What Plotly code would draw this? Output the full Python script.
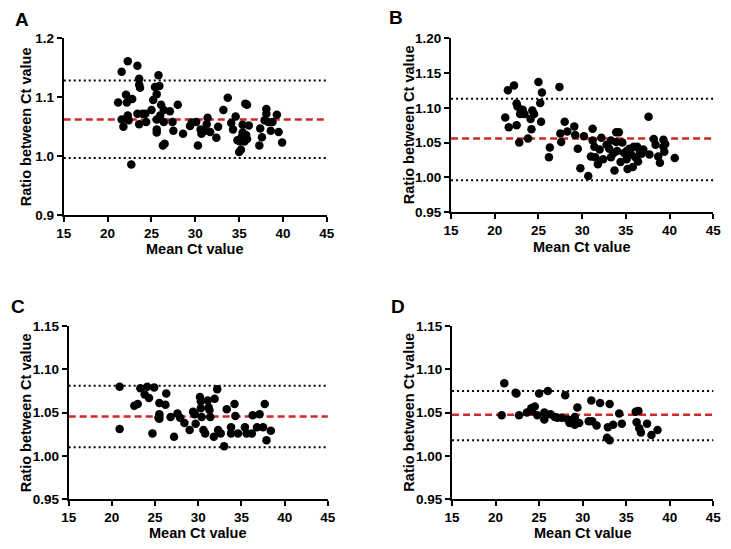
import plotly.graph_objects as go

# ---------------- data ----------------
A_x = [21.2, 21.6, 21.6, 21.8, 22.3, 22.1, 22.2, 22.3, 22.4, 22.8, 22.7, 23.4, 23.6, 23.6, 23.7,
       23.4, 23.6, 24.0, 24.3, 24.4, 25.0, 25.2, 25.4, 25.6, 25.8, 25.9, 25.6, 25.6, 25.6, 26.1,
       26.0, 26.4, 26.4, 26.3, 26.5, 27.1, 27.4, 27.5, 28.0, 28.6, 29.6, 29.4, 30.1, 30.3, 30.6,
       30.7, 31.1, 31.4, 31.3, 31.7, 32.4, 32.6, 33.2, 33.7, 34.1, 34.3, 34.6, 34.8, 35.0, 35.2,
       35.1, 35.4, 35.4, 35.7, 35.9, 35.6, 35.8, 35.9, 36.1, 35.3, 37.3, 37.4, 37.6, 38.1, 38.1,
       38.3, 38.6, 38.8, 39.3, 39.5, 39.9, 37.9]
A_y = [1.091, 1.143, 1.062, 1.050, 1.161, 1.104, 1.091, 1.069, 1.061, 1.097, 0.986, 1.153, 1.131, 1.121, 1.116,
       1.072, 1.054, 1.072, 1.072, 1.058, 1.078, 1.095, 1.117, 1.105, 1.137, 1.119, 1.062, 1.045, 1.040, 1.087,
       1.069, 1.078, 1.058, 1.018, 1.021, 1.076, 1.058, 1.043, 1.087, 1.038, 1.057, 1.051, 1.058, 1.018, 1.045,
       1.038, 1.043, 1.065, 1.054, 1.041, 1.031, 1.050, 1.078, 1.099, 1.056, 1.045, 1.067, 1.027, 1.007, 1.011,
       1.025, 1.040, 1.053, 1.089, 1.087, 1.025, 1.036, 1.029, 1.052, 1.033, 1.018, 1.047, 1.032, 1.080, 1.072,
       1.058, 1.043, 1.058, 1.070, 1.041, 1.023, 1.061]

B_x = [21.2, 21.5, 21.6, 22.2, 22.5, 22.6, 22.5, 22.8, 22.9, 23.2, 23.4, 23.0, 23.8, 24.1, 24.3,
       24.5, 24.2, 25.0, 25.2, 25.4, 25.3, 26.3, 26.2, 27.4, 27.5, 27.6, 28.0, 28.3, 29.1, 29.2,
       29.5, 29.8, 30.2, 30.7, 31.2, 31.2, 31.0, 31.4, 31.5, 31.8, 32.0, 32.2, 32.4, 32.8, 33.1,
       33.3, 33.3, 33.6, 33.9, 33.9, 34.2, 33.7, 34.0, 34.6, 34.4, 34.8, 35.1, 35.2, 35.4, 35.6,
       35.9, 35.8, 36.1, 36.3, 36.4, 36.6, 36.8, 37.6, 37.7, 38.2, 38.4, 38.7, 38.9, 39.3, 39.3,
       39.4, 39.5, 40.6, 37.0, 35.1]
B_y = [1.086, 1.125, 1.072, 1.132, 1.106, 1.102, 1.075, 1.050, 1.091, 1.097, 1.091, 1.095, 1.056, 1.084, 1.096,
       1.091, 1.069, 1.137, 1.107, 1.122, 1.080, 1.043, 1.029, 1.130, 1.063, 1.051, 1.080, 1.066, 1.073, 1.061,
       1.041, 1.013, 1.059, 1.002, 1.070, 1.053, 1.030, 1.044, 1.029, 1.019, 1.040, 1.057, 1.026, 1.047, 1.041,
       1.053, 1.029, 1.035, 1.051, 1.065, 1.065, 1.010, 1.038, 1.050, 1.022, 1.035, 1.026, 1.012, 1.041, 1.033,
       1.044, 1.015, 1.029, 1.044, 1.023, 1.038, 1.034, 1.087, 1.033, 1.055, 1.047, 1.030, 1.021, 1.054, 1.044,
       1.037, 1.048, 1.028, 1.040, 1.038]

C_x = [20.9, 20.9, 22.6, 23.0, 23.3, 24.1, 23.8, 24.3, 24.9, 24.7, 25.5, 26.2, 26.3, 25.5, 25.4,
       25.5, 26.8, 27.2, 27.6, 27.9, 28.4, 29.0, 29.4, 29.6, 29.7, 30.2, 30.3, 30.3, 30.4, 30.6,
       30.8, 31.1, 31.2, 31.3, 31.4, 31.9, 32.2, 31.8, 32.3, 32.6, 33.0, 33.3, 33.8, 33.8, 34.2,
       34.3, 34.6, 35.4, 35.6, 36.2, 36.3, 36.8, 37.1, 37.5, 37.7, 37.9, 38.4]
C_y = [1.080, 1.031, 1.058, 1.060, 1.078, 1.080, 1.071, 1.067, 1.079, 1.026, 1.061, 1.059, 1.072, 1.048, 1.044,
       1.043, 1.045, 1.022, 1.049, 1.044, 1.038, 1.030, 1.051, 1.048, 1.037, 1.068, 1.063, 1.055, 1.045, 1.030,
       1.026, 1.064, 1.056, 1.053, 1.045, 1.066, 1.077, 1.022, 1.030, 1.026, 1.011, 1.054, 1.033, 1.026, 1.060,
       1.046, 1.026, 1.033, 1.026, 1.026, 1.047, 1.033, 1.048, 1.033, 1.060, 1.018, 1.029]

D_x = [21.0, 20.7, 22.3, 22.4, 22.7, 23.6, 24.1, 24.5, 24.2, 24.8, 25.0, 25.6, 25.6, 26.0, 26.3,
       26.8, 27.1, 27.6, 28.0, 28.3, 28.5, 29.1, 29.1, 29.4, 29.1, 29.6, 31.0, 30.7, 31.1, 31.6,
       32.0, 33.1, 32.9, 33.5, 32.8, 33.1, 34.2, 34.5, 36.1, 36.4, 36.2, 36.5, 36.7, 37.4, 37.9,
       38.6]
D_y = [1.084, 1.047, 1.073, 1.072, 1.047, 1.050, 1.055, 1.057, 1.052, 1.047, 1.072, 1.050, 1.042, 1.075, 1.048,
       1.045, 1.044, 1.044, 1.070, 1.042, 1.038, 1.045, 1.040, 1.056, 1.036, 1.038, 1.064, 1.040, 1.040, 1.035,
       1.061, 1.060, 1.033, 1.036, 1.021, 1.018, 1.049, 1.037, 1.051, 1.052, 1.039, 1.032, 1.027, 1.037, 1.024,
       1.030]

panel_letters = ["A", "B", "C", "D"]
# mean (red dashed), upper and lower limits (dotted)
means = [1.062, 1.056, 1.0455, 1.0475]
uppers = [1.128, 1.113, 1.081, 1.075]
lowers = [0.997, 0.996, 1.010, 1.018]
y_ranges = [[0.9, 1.2], [0.95, 1.2], [0.95, 1.15], [0.95, 1.15]]
y_dticks = [0.1, 0.05, 0.05, 0.05]
y_formats = [".1f", ".2f", ".2f", ".2f"]
x_range = [15, 45]
x_title = "Mean Ct value"
y_title = "Ratio between Ct value"

xs = [A_x, B_x, C_x, D_x]
ys = [A_y, B_y, C_y, D_y]

W, H = 731, 549
# pixel geometry of each panel: (left, right, top, bottom)
boxes = [(57, 326, 32, 214), (453, 721, 32, 211), (62, 327, 328, 506), (454, 721, 328, 506)]
letter_pos = [(14, 13), (397, 11), (10, 308), (399, 308)]
ytitle_x = [18, 410, 18, 410]
xtitle_offset = [35, 36, 35, 35]

FONT = "Arial, 'Liberation Sans', Helvetica, sans-serif"
RED = "#cc2a2a"

fig = go.Figure()
layout = dict(width=W, height=H, margin=dict(l=0, r=0, t=0, b=0),
              paper_bgcolor="white", plot_bgcolor="white", showlegend=False,
              font=dict(family=FONT, color="black"))
annotations = []
shapes = []

for i in range(4):
    sfx = "" if i == 0 else str(i + 1)
    l, r, t, b = boxes[i]
    xd = [l / W, r / W]
    yd = [1 - b / H, 1 - t / H]
    axis_common = dict(showline=True, linecolor="black", linewidth=2, ticks="outside",
                       ticklen=5, tickwidth=2, tickcolor="black", showgrid=False, zeroline=False,
                       tickfont=dict(family=FONT, size=13.5, color="black", weight="bold"))
    layout["xaxis" + sfx] = dict(domain=xd, range=x_range, dtick=5, tick0=15,
                                 anchor="y" + sfx, **axis_common)
    layout["yaxis" + sfx] = dict(domain=yd, range=y_ranges[i], dtick=y_dticks[i],
                                 tick0=y_ranges[i][0], tickformat=y_formats[i],
                                 anchor="x" + sfx, **axis_common)
    fig.add_trace(go.Scatter(x=xs[i], y=ys[i], mode="markers",
                             marker=dict(color="black", size=8.5, line=dict(width=0)),
                             xaxis="x" + sfx, yaxis="y" + sfx, cliponaxis=False))
    for val, dash, col, w in [(uppers[i], "2px,3px", "black", 2),
                              (lowers[i], "2px,3px", "black", 2),
                              (means[i], "7px,4px", RED, 2.5)]:
        shapes.append(dict(type="line", xref="x" + sfx + " domain", x0=0, x1=1,
                           yref="y" + sfx, y0=val, y1=val, layer="below",
                           line=dict(color=col, width=w, dash=dash)))
    # panel letter
    lx, ly = letter_pos[i]
    annotations.append(dict(text=panel_letters[i], xref="paper", yref="paper",
                            x=lx / W, y=1 - ly / H, showarrow=False,
                            xanchor="center", yanchor="middle",
                            font=dict(family=FONT, size=19, color="black", weight="bold")))
    # y title
    annotations.append(dict(text=y_title, xref="paper", yref="paper",
                            x=ytitle_x[i] / W, y=1 - ((t + b) / 2) / H, textangle=-90,
                            showarrow=False, xanchor="center", yanchor="middle",
                            font=dict(family=FONT, size=14.5, color="black", weight="bold")))
    # x title
    annotations.append(dict(text=x_title, xref="paper", yref="paper",
                            x=((l + r) / 2) / W, y=1 - (b + xtitle_offset[i]) / H,
                            showarrow=False, xanchor="center", yanchor="middle",
                            font=dict(family=FONT, size=14.5, color="black", weight="bold")))

layout["annotations"] = annotations
layout["shapes"] = shapes
fig.update_layout(**layout)
fig.write_html("out.html",
               config={"displayModeBar": False, "staticPlot": True},
               post_script="document.body.style.margin='0';document.body.style.overflow='hidden';")
